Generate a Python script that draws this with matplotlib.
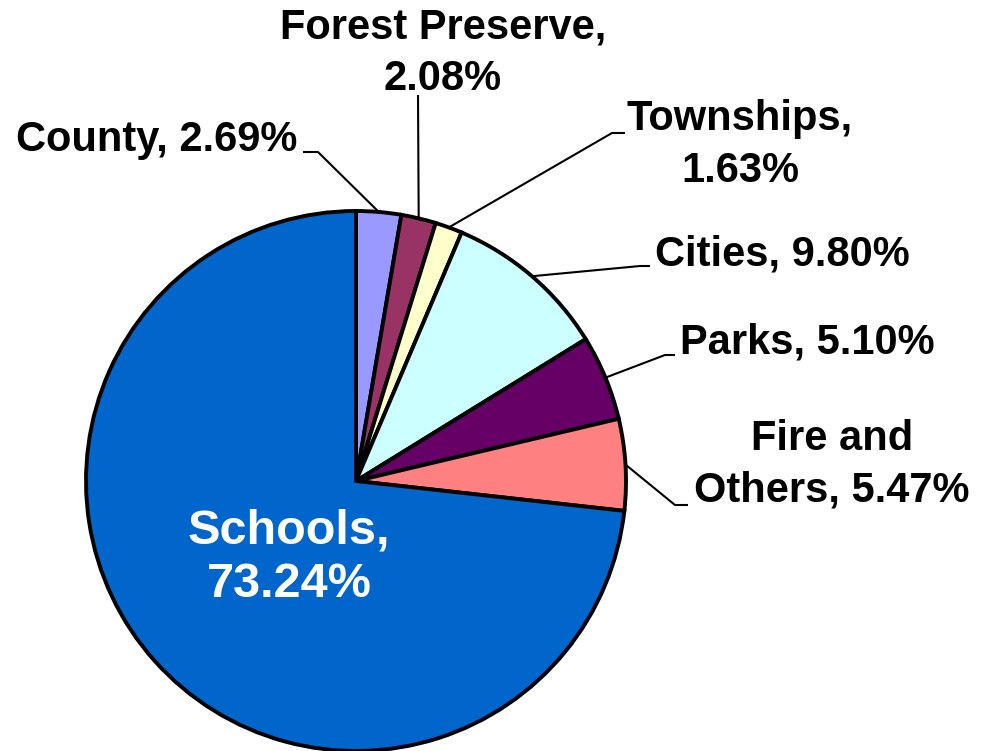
import matplotlib
matplotlib.use("Agg")
import matplotlib.pyplot as plt
import numpy as np

categories = ["County", "Forest Preserve", "Townships", "Cities", "Parks", "Fire and Others", "Schools"]
values = [2.69, 2.08, 1.63, 9.80, 5.10, 5.47, 73.24]
labels = ["County, 2.69%", "Forest Preserve,\n2.08%", "Townships,\n1.63%", "Cities, 9.80%",
          "Parks, 5.10%", "Fire and\nOthers, 5.47%", "Schools,\n73.24%"]
colors = ["#9999FF", "#993366", "#FFFFCC", "#CCFFFF", "#660066", "#FF8080", "#0066CC"]

W, H = 981, 751
fig = plt.figure(figsize=(W / 100, H / 100), dpi=100)
ax = fig.add_axes([0, 0, 1, 1])

def Y(y):
    return H - y

cx, cy, r = 356, Y(481), 270
wedges, _ = ax.pie(values, colors=colors, startangle=90, counterclock=False,
                   center=(cx, cy), radius=r,
                   wedgeprops=dict(edgecolor="black", linewidth=2.8))
ax.set_xlim(0, W)
ax.set_ylim(0, H)
ax.set_aspect("equal")
ax.axis("off")

fam = ["Liberation Sans", "DejaVu Sans"]

def anchor(w):
    a = np.deg2rad((w.theta1 + w.theta2) / 2)
    return cx + r * np.cos(a), cy + r * np.sin(a)

layout = {
    "County": ((157, 140), [(318, 152), (303, 152)]),
    "Forest Preserve": ((443, 53), [(418, 95)]),
    "Townships": ((740, 145), [(612, 133), (625, 133)]),
    "Cities": ((782, 255), [(640, 266), (650, 266)]),
    "Parks": ((807, 343), [(665, 355), (675, 355)]),
    "Fire and Others": ((832, 465), [(675, 505), (688, 505)]),
}

for w, cat, lab in zip(wedges, categories, labels):
    if cat in layout:
        (tx, ty), path = layout[cat]
        ax0, ay0 = anchor(w)
        xs = [ax0] + [p[0] for p in path]
        ys = [ay0] + [Y(p[1]) for p in path]
        ax.plot(xs, ys, color="black", lw=1.5, solid_capstyle="butt")
        ax.text(tx, Y(ty), lab, ha="center", va="center", linespacing=1.38,
                color="black", family=fam, fontsize=30, fontweight="bold")
    else:
        ax.text(289, Y(558), lab, ha="center", va="center", linespacing=1.25,
                color="white", family=fam, fontsize=35, fontweight="bold")

fig.savefig("out.png", dpi=100)
